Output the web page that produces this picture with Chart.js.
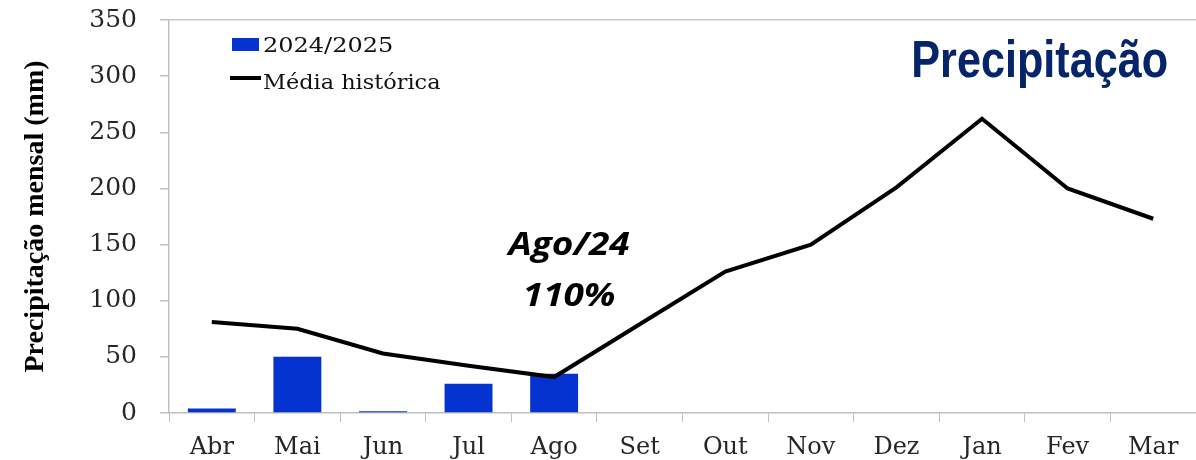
<!DOCTYPE html>
<html>
<head>
<meta charset="utf-8">
<script src="https://cdn.jsdelivr.net/npm/chart.js@4"></script>
<style>
    html, body { margin: 0; padding: 0; background: #fff; }
    #wrap { position: relative; width: 1196px; height: 460px; }
</style>
</head>
<body>
<div id="wrap"><canvas id="rainChart"></canvas></div>
<script>
const months = ['Abr', 'Mai', 'Jun', 'Jul', 'Ago', 'Set', 'Out', 'Nov', 'Dez', 'Jan', 'Fev', 'Mar'];
const season2425 = [4, 50, 1.5, 26, 35, null, null, null, null, null, null, null];
const historicAvg = [81, 75, 53, 42, 32, 79, 126, 150, 201, 262, 200, 173];
const yTicks = [0, 50, 100, 150, 200, 250, 300, 350];

const BAR_BLUE = '#0433cf';
const AXIS_GRAY = '#bfbfbf';
const TICK_TEXT = '#262626';

// legend, big title and the Ago/24 note are painted straight onto the canvas
const overlayText = {
    id: 'overlayText',
    afterDraw(chart) {
        const ctx = chart.ctx;
        const area = chart.chartArea;
        const x = chart.scales.x;

        ctx.save();

        // legend
        const lx = area.left + 63;
        ctx.fillStyle = BAR_BLUE;
        ctx.fillRect(lx, 38, 27, 13);
        ctx.strokeStyle = '#000';
        ctx.lineWidth = 4;
        ctx.beginPath();
        ctx.moveTo(lx - 2, 78);
        ctx.lineTo(lx + 29, 78);
        ctx.stroke();

        ctx.fillStyle = '#111';
        ctx.font = '20px "DejaVu Serif"';
        ctx.textBaseline = 'alphabetic';
        ctx.textAlign = 'left';
        ctx.save();
        ctx.translate(lx + 31, 52);
        ctx.scale(1.2, 1);
        ctx.fillText('2024/2025', 0, 0);
        ctx.restore();
        ctx.save();
        ctx.translate(lx + 31, 89);
        ctx.scale(1.12, 1);
        ctx.fillText('Média histórica', 0, 0);
        ctx.restore();

        // title, top right
        ctx.save();
        ctx.fillStyle = '#062469';
        ctx.font = 'bold 52px "Liberation Sans"';
        ctx.textAlign = 'right';
        ctx.translate(1168, 77);
        ctx.scale(0.83, 1);
        ctx.fillText('Precipitação', 0, 0);
        ctx.restore();

        // note above August
        const cx = x.getPixelForValue(4) + 15;
        ctx.save();
        ctx.fillStyle = '#000';
        ctx.font = 'italic bold 33px "Open Sans"';
        ctx.textAlign = 'center';
        ctx.translate(cx, 0);
        ctx.scale(1.12, 1);
        ctx.fillText('Ago/24', 0, 255);
        ctx.fillText('110%', 0, 306);
        ctx.restore();

        ctx.restore();
    }
};

const ctx = document.getElementById('rainChart').getContext('2d');
const rainChart = new Chart(ctx, {
    type: 'bar',
    data: {
        labels: months,
        datasets: [
            {
                type: 'line',
                label: 'Média histórica',
                data: historicAvg,
                borderColor: '#000',
                borderWidth: 4,
                pointRadius: 0,
                tension: 0,
                borderJoinStyle: 'miter',
                order: 0
            },
            {
                type: 'bar',
                label: '2024/2025',
                data: season2425,
                backgroundColor: BAR_BLUE,
                barPercentage: 0.56,
                categoryPercentage: 1,
                order: 1
            }
        ]
    },
    options: {
        responsive: true,
        maintainAspectRatio: false,
        animation: false,
        layout: { padding: { top: 20, right: 0, bottom: 0, left: 0 } },
        plugins: {
            legend: { display: false },
            tooltip: { enabled: false }
        },
        scales: {
            x: {
                offset: true,
                grid: {
                    offset: true,
                    drawOnChartArea: false,
                    tickLength: 9,
                    color: AXIS_GRAY
                },
                border: { color: AXIS_GRAY, width: 1.5 },
                ticks: {
                    color: TICK_TEXT,
                    font: { family: 'DejaVu Serif', size: 24 },
                    padding: 11,
                    maxRotation: 0
                },
                afterFit(scale) { scale.height = 47; }
            },
            y: {
                min: 0,
                max: 350,
                afterBuildTicks(scale) {
                    scale.ticks = yTicks.map(v => ({ value: v }));
                },
                grid: {
                    color: (c) => (c.tick && c.tick.value === 350) ? '#c8c8c8' : 'rgba(0,0,0,0)',
                    tickColor: AXIS_GRAY,
                    tickLength: 9,
                    lineWidth: 1.5
                },
                border: { color: AXIS_GRAY, width: 1.5 },
                ticks: {
                    color: TICK_TEXT,
                    font: { family: 'DejaVu Serif', size: 25 },
                    padding: 23
                },
                title: {
                    display: true,
                    text: 'Precipitação mensal (mm)',
                    color: '#000',
                    font: { family: 'Liberation Serif', size: 28, weight: 'bold' },
                    padding: { top: 19, bottom: 0 }
                },
                afterFit(scale) {
                    scale.width = 169;
                    // top/bottom room comes from layout padding only
                    scale.paddingTop = 0;
                    scale.paddingBottom = 0;
                }
            }
        }
    },
    plugins: [overlayText]
});
</script>
</body>
</html>
